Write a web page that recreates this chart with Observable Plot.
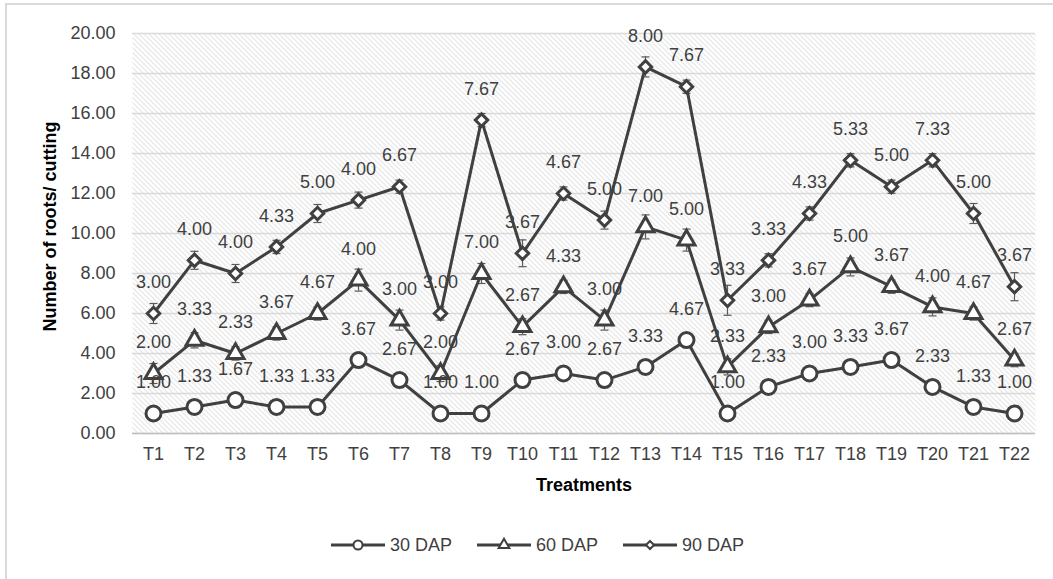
<!DOCTYPE html>
<html><head><meta charset="utf-8">
<script src="https://cdn.jsdelivr.net/npm/d3@7"></script>
<script src="https://cdn.jsdelivr.net/npm/@observablehq/plot@0.6"></script>
<style>
body{margin:0;background:#fff;font-family:"Liberation Sans",Arial,sans-serif;width:1053px;height:579px;overflow:hidden;position:relative}
#frame{position:absolute;left:5px;top:3px;width:1100px;height:700px;border:2px solid #d9d9d9;pointer-events:none}
#legend{display:flex;justify-content:center;align-items:center;gap:25px;margin-top:25px;height:20px;font-size:18px;color:#404040;padding-left:22px}
.item{display:flex;align-items:center;gap:5px}
.item svg{display:block}
</style></head><body>
<div id="chart"></div>
<div id="legend"></div>
<div id="frame"></div>
<script>
const treatments = ["T1","T2","T3","T4","T5","T6","T7","T8","T9","T10","T11","T12","T13","T14","T15","T16","T17","T18","T19","T20","T21","T22"];
const seriesNames = ["30 DAP","60 DAP","90 DAP"];
const dap30 = [1.00,1.33,1.67,1.33,1.33,3.67,2.67,1.00,1.00,2.67,3.00,2.67,3.33,4.67,1.00,2.33,3.00,3.33,3.67,2.33,1.33,1.00];
const dap60 = [2.00,3.33,2.33,3.67,4.67,4.00,3.00,2.00,7.00,2.67,4.33,3.00,7.00,5.00,2.33,3.00,3.67,5.00,3.67,4.00,4.67,2.67];
const dap90 = [3.00,4.00,4.00,4.33,5.00,4.00,6.67,3.00,7.67,3.67,4.67,5.00,8.00,7.67,3.33,3.33,4.33,5.33,5.00,7.33,5.00,3.67];
const err60 = [0.50,0.38,0.33,0.33,0.33,0.55,0.50,0.40,0.50,0.40,0.33,0.50,0.60,0.55,0.40,0.33,0.33,0.45,0.33,0.45,0.33,0.33];
const err90 = [0.50,0.45,0.45,0.33,0.45,0.40,0.33,0.33,0.33,0.67,0.33,0.45,0.50,0.33,0.75,0.33,0.33,0.33,0.33,0.33,0.50,0.70];
const yTicks = [0,2,4,6,8,10,12,14,16,18,20];
const yTitle = "Number of roots/ cutting";
const xTitle = "Treatments";

const rows = [];
treatments.forEach((t, i) => {
  const c1 = dap30[i], c2 = c1 + dap60[i], c3 = c2 + dap90[i];
  rows.push({t, series: seriesNames[0], value: dap30[i], y: c1, err: 0});
  rows.push({t, series: seriesNames[1], value: dap60[i], y: c2, err: err60[i]});
  rows.push({t, series: seriesNames[2], value: dap90[i], y: c3, err: err90[i]});
});
const errRows = rows.filter(d => d.err > 0);
const capSymbol = {draw(ctx) { ctx.moveTo(-4, 0); ctx.lineTo(4, 0); }};
const fmt = d3.format(".2f");
const ink = "#404040";

const plot = Plot.plot({
  width: 1053,
  height: 510,
  marginTop: 33,
  marginBottom: 77,
  marginLeft: 132,
  marginRight: 18,
  style: {fontSize: "18px", fontFamily: "'Liberation Sans', Arial, sans-serif", color: ink, background: "transparent"},
  x: {type: "point", domain: treatments, padding: 0.5},
  y: {domain: [0, 20]},
  marks: [
    Plot.frame({fill: "url(#hatch)", stroke: "none"}),
    Plot.gridY(yTicks, {stroke: "#d9d9d9", strokeOpacity: 1, strokeWidth: 1.5}),
    Plot.ruleY([0], {stroke: "#bfbfbf", strokeWidth: 1.5}),
    Plot.axisY(yTicks, {tickSize: 0, tickPadding: 17, tickFormat: fmt, fontSize: 18, label: null, fill: ink}),
    Plot.axisX({tickSize: 0, tickPadding: 14, fontSize: 18, label: null, fill: ink}),
    Plot.ruleX(errRows, {x: "t", y1: d => d.y - d.err, y2: d => d.y + d.err, stroke: "#595959", strokeWidth: 1.2}),
    Plot.dot(errRows, {x: "t", y: d => d.y - d.err, symbol: capSymbol, stroke: "#595959", strokeWidth: 1.2}),
    Plot.dot(errRows, {x: "t", y: d => d.y + d.err, symbol: capSymbol, stroke: "#595959", strokeWidth: 1.2}),
    Plot.line(rows, {x: "t", y: "y", z: "series", stroke: ink, strokeWidth: 3}),
    Plot.dot(rows.filter(d => d.series === seriesNames[0]), {x: "t", y: "y", r: 7.5, symbol: "circle", fill: "#fff", stroke: ink, strokeWidth: 3}),
    Plot.dot(rows.filter(d => d.series === seriesNames[1]), {x: "t", y: "y", r: 6.3, symbol: "triangle", fill: "#fff", stroke: ink, strokeWidth: 3}),
    Plot.dot(rows.filter(d => d.series === seriesNames[2]), {x: "t", y: "y", r: 5.6, symbol: "diamond2", fill: "#fff", stroke: ink, strokeWidth: 3}),
    Plot.text(rows, {x: "t", y: "y", text: d => fmt(d.value), dy: -31, fontSize: 18, fill: ink}),
    Plot.text([yTitle], {frameAnchor: "left", textAnchor: "middle", lineAnchor: "middle", dx: -82, dy: -7, rotate: -90, fontWeight: "bold", fontSize: 18, fill: "#000"}),
    Plot.text([xTitle], {frameAnchor: "bottom", textAnchor: "middle", lineAnchor: "middle", dy: 52, fontWeight: "bold", fontSize: 18, fill: "#000"})
  ]
});

const ns = "http://www.w3.org/2000/svg";
const defs = document.createElementNS(ns, "defs");
defs.innerHTML = '<pattern id="hatch" patternUnits="userSpaceOnUse" width="5" height="5"><rect width="5" height="5" fill="#fff"/><path d="M-1,-1L6,6M-1,4L1,6M4,-1L6,1" stroke="#d4d4d4" stroke-width="1"/></pattern>';
plot.insertBefore(defs, plot.firstChild);
document.getElementById("chart").appendChild(plot);

// legend
const legendSymbols = ["circle", "triangle", "diamond2"];
const legendR = [4.5, 4, 3.6];
const legend = d3.select("#legend");
seriesNames.forEach((name, i) => {
  const item = legend.append("div").attr("class", "item");
  const s = item.append("svg").attr("width", 54).attr("height", 20);
  s.append("line").attr("x1", 0).attr("x2", 54).attr("y1", 10).attr("y2", 10).attr("stroke", ink).attr("stroke-width", 3);
  const sym = {circle: d3.symbolCircle, triangle: d3.symbolTriangle, diamond2: d3.symbolDiamond2}[legendSymbols[i]];
  s.append("path").attr("transform", "translate(27,10)")
    .attr("d", d3.symbol(sym, Math.PI * legendR[i] * legendR[i])())
    .attr("fill", "#fff").attr("stroke", ink).attr("stroke-width", 2);
  item.append("span").text(name);
});
</script>
</body></html>
